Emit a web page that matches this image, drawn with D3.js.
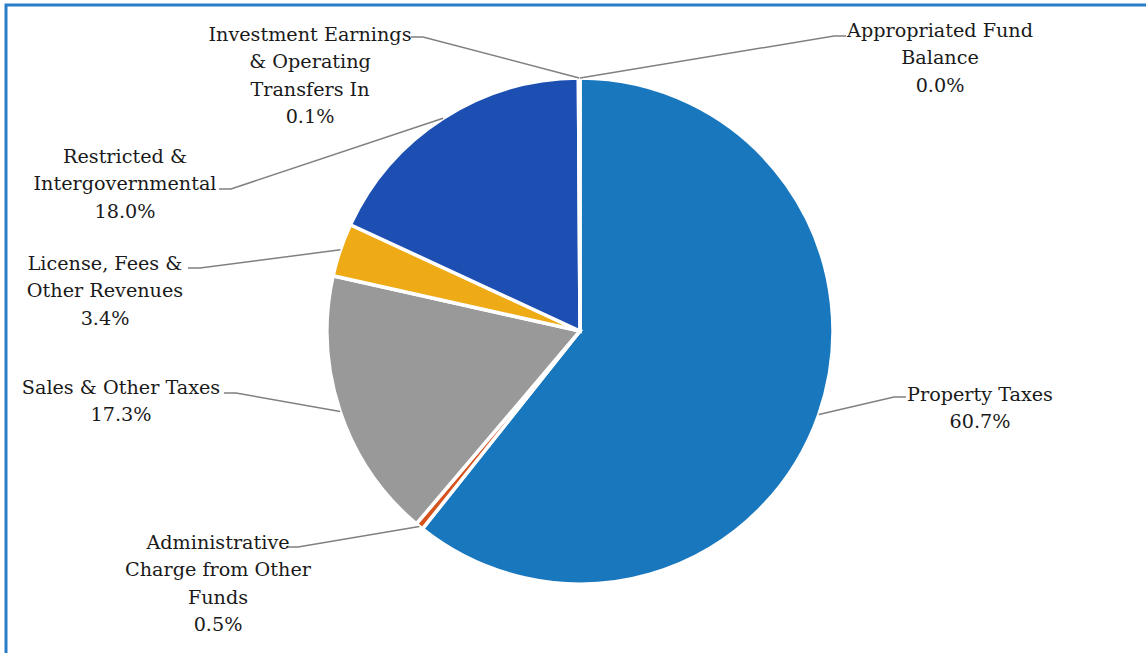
<!DOCTYPE html>
<html>
<head>
<meta charset="utf-8">
<script src="https://cdn.jsdelivr.net/npm/d3@7"></script>
<style>
  html, body { margin: 0; padding: 0; background: #ffffff; }
  svg { display: block; }
</style>
</head>
<body>
<svg id="chart" width="1146" height="653"></svg>
<script>
// Revenue sources, clockwise from 12 o'clock
const categories = [
  "Appropriated Fund Balance",
  "Property Taxes",
  "Administrative Charge from Other Funds",
  "Sales & Other Taxes",
  "License, Fees & Other Revenues",
  "Restricted & Intergovernmental",
  "Investment Earnings & Operating Transfers In"
];
const shares = [0.0, 60.7, 0.5, 17.3, 3.4, 18.0, 0.1];
const sliceColors = ["#2a6fb5", "#1977be", "#d4531f", "#999999", "#efab16", "#1d4fb2", "#2a4fa8"];

// Label text broken into lines, plus where each label block sits
const labelLayout = {
  "Appropriated Fund Balance": { lines: ["Appropriated Fund", "Balance"], cx: 940, y0: 37, side: "right", lx: 846, ly: 36 },
  "Property Taxes": { lines: ["Property Taxes"], cx: 980, y0: 401, side: "right", lx: 906, ly: 397 },
  "Administrative Charge from Other Funds": { lines: ["Administrative", "Charge from Other", "Funds"], cx: 218, y0: 549, side: "left", lx: 286, ly: 547 },
  "Sales & Other Taxes": { lines: ["Sales & Other Taxes"], cx: 121, y0: 394, side: "left", lx: 224, ly: 393 },
  "License, Fees & Other Revenues": { lines: ["License, Fees &", "Other Revenues"], cx: 105, y0: 270, side: "left", lx: 188, ly: 268 },
  "Restricted & Intergovernmental": { lines: ["Restricted &", "Intergovernmental"], cx: 125, y0: 163, side: "left", lx: 219, ly: 189 },
  "Investment Earnings & Operating Transfers In": { lines: ["Investment Earnings", "& Operating", "Transfers In"], cx: 310, y0: 41, side: "left", lx: 411, ly: 37 }
};

const W = 1146, H = 653;
const cx = 580, cy = 331, R = 253;
const lineH = 27.3;

const svg = d3.select("#chart");

// outer frame
svg.append("rect")
  .attr("x", 6).attr("y", 5)
  .attr("width", W + 20).attr("height", H + 20)
  .attr("fill", "#ffffff")
  .attr("stroke", "#2b7cc9")
  .attr("stroke-width", 3);

const data = categories.map((c, i) => ({ name: c, value: shares[i], color: sliceColors[i] }));

const pie = d3.pie().value(d => d.value).sort(null).startAngle(0).endAngle(2 * Math.PI);
const arcs = pie(data);

const arc = d3.arc().innerRadius(0).outerRadius(R);
const edge = d3.arc().innerRadius(R).outerRadius(R);

const g = svg.append("g").attr("transform", `translate(${cx},${cy})`);

g.selectAll("path.slice")
  .data(arcs)
  .join("path")
  .attr("class", "slice")
  .attr("d", arc)
  .attr("fill", d => d.data.color)
  .attr("stroke", "#ffffff")
  .attr("stroke-width", 3.5)
  .attr("stroke-linejoin", "miter");

// leader lines: pie edge -> elbow -> label
const fmt = d3.format(".1f");
const leaders = svg.append("g");
arcs.forEach(a => {
  const L = labelLayout[a.data.name];
  const [ex, ey] = edge.centroid(a);
  const px = cx + ex, py = cy + ey;
  const elbowX = L.side === "left" ? L.lx + 12 : L.lx - 12;
  leaders.append("path")
    .attr("d", d3.line()([[px, py], [elbowX, L.ly], [L.lx, L.ly]]))
    .attr("fill", "none")
    .attr("stroke", "#808080")
    .attr("stroke-width", 1.5);

  const txt = svg.append("text")
    .attr("font-family", "DejaVu Serif")
    .attr("font-size", 19.2)
    .attr("fill", "#1a1a1a")
    .attr("text-anchor", "middle");
  const allLines = L.lines.concat([fmt(a.data.value) + "%"]);
  allLines.forEach((t, i) => {
    txt.append("tspan")
      .attr("x", L.cx)
      .attr("y", L.y0 + i * lineH)
      .text(t);
  });
});
</script>
</body>
</html>
